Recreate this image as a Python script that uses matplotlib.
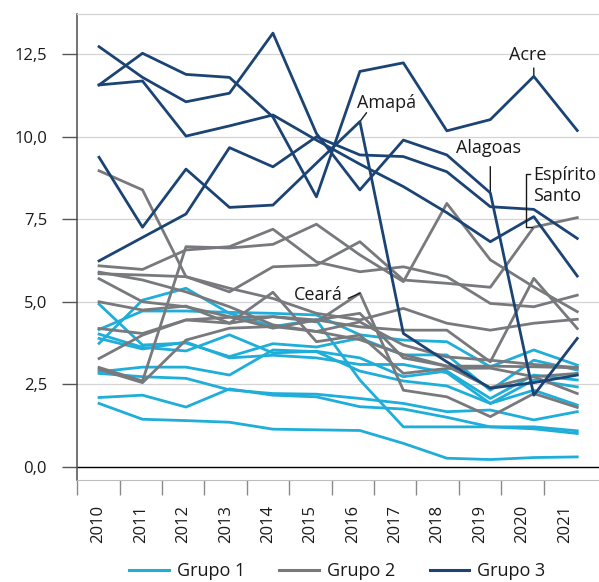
import numpy as np
import matplotlib
matplotlib.use("Agg")
import matplotlib.pyplot as plt
import matplotlib.transforms as mtransforms
from matplotlib.lines import Line2D

plt.rcParams["font.family"] = ["Open Sans", "DejaVu Sans"]

anos = ["2010", "2011", "2012", "2013", "2014", "2015",
        "2016", "2017", "2018", "2019", "2020", "2021"]

# Grupo 3 (azul escuro)
acre = [11.57, 12.53, 11.89, 11.80, 10.60, 8.18, 11.98, 12.24, 10.18, 10.52, 11.83, 10.19]
alagoas = [12.73, 11.80, 11.06, 11.32, 13.14, 10.10, 8.39, 9.90, 9.45, 8.30, 2.17, 3.89]
espirito_santo = [11.57, 11.69, 10.02, 10.33, 10.66, 9.90, 9.17, 8.49, 7.70, 6.82, 7.58, 5.78]
amapa = [9.38, 7.26, 9.02, 7.86, 7.93, 9.20, 10.46, 4.04, 3.18, 2.38, 2.55, 2.78]
grupo3_outro = [6.24, 6.95, 7.66, 9.67, 9.09, 10.00, 9.45, 9.40, 8.94, 7.88, 7.80, 6.92]

# Grupo 2 (cinza)
ceara = [4.19, 4.04, 4.45, 4.35, 4.55, 4.39, 5.26, 2.32, 2.12, 1.52, 2.22, 1.80]
grupo2_outros = [
    [8.97, 8.39, 5.76, 5.41, 5.10, 4.65, 4.45, 4.80, 4.35, 4.14, 4.35, 4.47],
    [6.09, 5.98, 6.57, 6.67, 7.20, 6.21, 5.91, 6.06, 5.76, 4.95, 4.85, 5.20],
    [5.85, 5.81, 5.76, 5.30, 6.06, 6.11, 6.82, 5.66, 5.56, 5.44, 7.26, 7.55],
    [3.01, 2.60, 6.67, 6.63, 6.74, 7.35, 6.42, 5.61, 7.98, 6.27, 5.45, 4.70],
    [5.90, 5.66, 5.30, 4.85, 4.30, 4.10, 4.39, 3.69, 3.33, 3.23, 3.10, 3.01],
    [5.70, 5.00, 4.85, 4.55, 4.20, 4.45, 4.24, 4.14, 4.14, 3.18, 5.71, 4.19],
    [5.00, 4.75, 4.87, 4.35, 5.29, 3.79, 3.99, 2.83, 2.98, 2.99, 2.73, 2.83],
    [3.28, 3.99, 4.45, 4.53, 4.55, 4.45, 4.65, 3.30, 3.05, 3.05, 3.03, 3.00],
    [2.95, 2.55, 3.84, 4.20, 4.25, 4.10, 3.85, 3.40, 3.05, 2.40, 2.73, 2.22],
]

# Grupo 1 (azul claro)
grupo1 = [
    [3.74, 5.05, 5.41, 4.65, 4.25, 4.45, 2.63, 1.21, 1.21, 1.21, 1.15, 1.01],
    [4.16, 4.72, 4.72, 4.68, 4.65, 4.60, 4.00, 3.84, 3.79, 3.03, 3.54, 3.08],
    [4.93, 3.69, 3.75, 3.34, 3.73, 3.63, 3.90, 3.39, 3.39, 2.32, 3.23, 2.93],
    [4.02, 3.62, 3.51, 4.00, 3.45, 3.50, 3.30, 2.73, 2.90, 2.07, 2.78, 2.63],
    [3.89, 3.57, 3.78, 3.30, 3.38, 3.30, 3.10, 3.10, 2.85, 1.92, 2.63, 2.42],
    [2.88, 3.02, 3.02, 2.78, 3.54, 3.49, 2.90, 2.60, 2.45, 1.92, 2.32, 1.87],
    [2.83, 2.73, 2.68, 2.33, 2.22, 2.20, 2.07, 1.92, 1.67, 1.72, 1.42, 1.67],
    [2.10, 2.17, 1.81, 2.36, 2.17, 2.12, 1.82, 1.75, 1.50, 1.21, 1.21, 1.09],
    [1.92, 1.44, 1.40, 1.35, 1.14, 1.12, 1.10, 0.71, 0.26, 0.22, 0.28, 0.30],
]

cor1 = "#1eaed9"
cor2 = "#78797c"
cor3 = "#1b4474"
texto = "#1a1a1a"


def main():
    fig = plt.figure(figsize=(5.99, 5.82), dpi=100)
    ax = fig.add_axes([77.3 / 599, 102 / 582, (599 - 77.3) / 599, 466 / 582])

    x = np.arange(len(anos))

    for serie in grupo1:
        ax.plot(x, serie, color=cor1, lw=2.0, zorder=2)
    for serie in grupo2_outros + [ceara]:
        ax.plot(x, serie, color=cor2, lw=2.0, zorder=3)
    for serie in [grupo3_outro, amapa, espirito_santo, alagoas, acre]:
        ax.plot(x, serie, color=cor3, lw=2.0, zorder=4)

    ax.set_xlim(-0.5, 11.5)
    ax.set_ylim(-0.40, 13.72)

    yticks = np.arange(0, 12.6, 2.5)
    for v in yticks[1:]:
        ax.axhline(v, color="#d4d4d4", lw=0.9, zorder=0)
    ax.axhline(0, color="black", lw=1.0, zorder=1)

    ax.set_yticks(yticks)
    ax.set_yticklabels([f"{v:.1f}".replace(".", ",") for v in yticks])
    ax.tick_params(axis="y", length=10.8, width=1.0, color="#555555",
                   pad=11, labelsize=12, labelcolor=texto)

    # categorias com marcas entre os anos
    passo = 0.975
    ax.set_xticks([-0.5 + passo * k for k in range(len(anos))])
    ax.set_xticklabels([])
    ax.set_xticks([-0.5 + passo * (k + 0.5) for k in range(len(anos))], minor=True)
    ax.set_xticklabels(anos, minor=True, rotation=90)
    ax.tick_params(axis="x", which="major", length=10.8, width=1.0, color="#8a8a8a")
    ax.tick_params(axis="x", which="minor", length=0, pad=18,
                   labelsize=12, labelcolor=texto)

    ax.spines["right"].set_visible(False)
    ax.spines["top"].set_color("#d4d4d4")
    ax.spines["top"].set_linewidth(0.9)
    ax.spines["bottom"].set_color("#bdbdbd")
    ax.spines["left"].set_color("#4d4d4d")
    ax.spines["left"].set_linewidth(1.1)

    # rótulos dos estados
    seta = dict(arrowstyle="-", color=texto, lw=1.0, shrinkA=0, shrinkB=0)
    fs = 13

    ax.annotate("", xy=(10, acre[10]), xytext=(0, 6), textcoords="offset points",
                arrowprops=seta)
    ax.annotate("Acre", xy=(10, acre[10]), xytext=(-4, 15.5), textcoords="offset points",
                ha="center", va="center", fontsize=fs, color=texto)

    ax.annotate("", xy=(6, amapa[6]), xytext=(4.8, 6.4), textcoords="offset points",
                arrowprops=seta)
    ax.annotate("Amapá", xy=(6, amapa[6]), xytext=(19.5, 13.2), textcoords="offset points",
                ha="center", va="center", fontsize=fs, color=texto)

    ax.annotate("", xy=(9, alagoas[9]), xytext=(0, 18.9), textcoords="offset points",
                arrowprops=seta)
    ax.annotate("Alagoas", xy=(9, alagoas[9]), xytext=(-1.2, 32.5), textcoords="offset points",
                ha="center", va="center", fontsize=fs, color=texto)

    ax.annotate("", xy=(6, ceara[6]), xytext=(-8.4, -3.7), textcoords="offset points",
                arrowprops=seta)
    ax.annotate("Ceará", xy=(6, ceara[6]), xytext=(-12.5, -1.5), textcoords="offset points",
                ha="right", va="center", fontsize=fs, color=texto)

    # colchete do Espírito Santo (em polegadas, relativo ao ponto de 2020)
    ancora = fig.dpi_scale_trans + mtransforms.ScaledTranslation(
        10, espirito_santo[10], ax.transData)
    colchete = Line2D([-0.033, -0.076, -0.076, -0.013],
                      [0.426, 0.426, -0.107, -0.107],
                      transform=ancora, color=texto, lw=1.0, zorder=6)
    ax.add_line(colchete)
    ax.annotate("Espírito\nSanto", xy=(10, espirito_santo[10]), xytext=(-0.7, 22.4),
                textcoords="offset points", ha="left", va="center",
                fontsize=fs, color=texto, linespacing=1.2)

    handles = [Line2D([], [], color=c, lw=2.2) for c in (cor1, cor2, cor3)]
    fig.legend(handles, ["Grupo 1", "Grupo 2", "Grupo 3"], loc="center",
               bbox_to_anchor=(0.563, 0.019), ncol=3, frameon=False,
               fontsize=13, handlelength=2.2, handletextpad=0.45,
               columnspacing=1.9, labelcolor=texto)

    fig.savefig("out.png", dpi=100)
    plt.close(fig)


if __name__ == "__main__":
    main()
